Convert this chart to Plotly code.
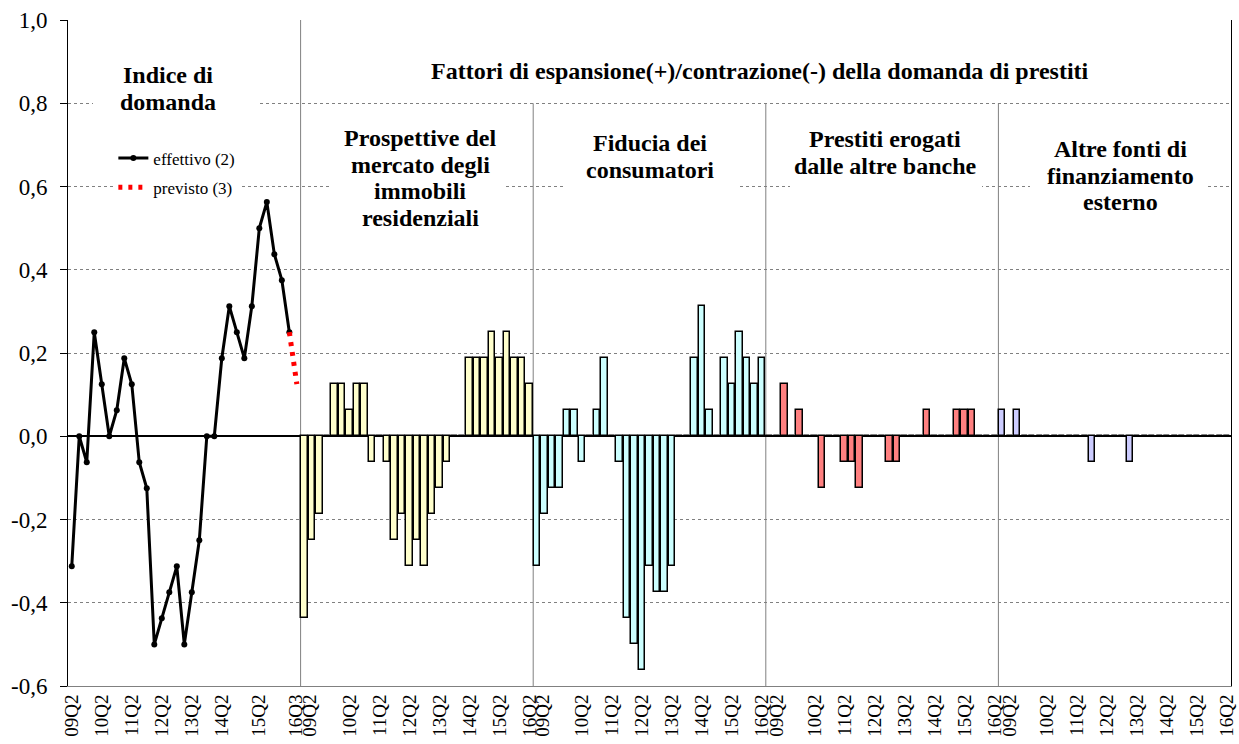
import plotly.graph_objects as go

# Indice di domanda (line), one value per quarter
effettivo = [-0.3125, 0.0, -0.0625, 0.25, 0.125, 0.0, 0.0625, 0.1875, 0.125, -0.0625,
             -0.125, -0.5, -0.4375, -0.375, -0.3125, -0.5, -0.375, -0.25, 0.0, 0.0,
             0.1875, 0.3125, 0.25, 0.1875, 0.3125, 0.5, 0.5625, 0.4375, 0.375, 0.25]
previsto = [0.25, 0.125]

# factor bars, 31 quarters each
prospettive = [-0.4375, -0.25, -0.1875, 0.0, 0.125, 0.125, 0.0625, 0.125, 0.125, -0.0625,
               0.0, -0.0625, -0.25, -0.1875, -0.3125, -0.25, -0.3125, -0.1875, -0.125, -0.0625,
               0.0, 0.0, 0.1875, 0.1875, 0.1875, 0.25, 0.1875, 0.25, 0.1875, 0.1875, 0.125]
fiducia = [-0.3125, -0.1875, -0.125, -0.125, 0.0625, 0.0625, -0.0625, 0.0, 0.0625, 0.1875,
           0.0, -0.0625, -0.4375, -0.5, -0.5625, -0.3125, -0.375, -0.375, -0.3125, 0.0,
           0.0, 0.1875, 0.3125, 0.0625, 0.0, 0.1875, 0.125, 0.25, 0.1875, 0.125, 0.1875]
altre_banche = [0.0, 0.0, 0.125, 0.0, 0.0625, 0.0, 0.0, -0.125, 0.0, 0.0,
                -0.0625, -0.0625, -0.125, 0.0, 0.0, 0.0, -0.0625, -0.0625, 0.0, 0.0,
                0.0, 0.0625, 0.0, 0.0, 0.0, 0.0625, 0.0625, 0.0625, 0.0, 0.0, 0.0]
altre_fonti = [0.0625, 0.0, 0.0625, 0.0, 0.0, 0.0, 0.0, 0.0, 0.0, 0.0,
               0.0, 0.0, -0.0625, 0.0, 0.0, 0.0, 0.0, -0.0625, 0.0, 0.0,
               0.0, 0.0, 0.0, 0.0, 0.0, 0.0, 0.0, 0.0, 0.0, 0.0, 0.0]

line_labels = ["09Q2", "10Q2", "11Q2", "12Q2", "13Q2", "14Q2", "15Q2", "16Q3"]
bar_labels = ["09Q2", "10Q2", "11Q2", "12Q2", "13Q2", "14Q2", "15Q2", "16Q2"]

FONT = "Liberation Serif"
SEC = 31  # slots per section

# plot area geometry (pixels) used to place the text boxes
W, H = 1239, 744
ML, MR, MT, MB = 68, 8, 20, 58
XR = (-0.5, 154.5)
YR = (-0.6, 1.0)


def px2x(px):
    return XR[0] + (px - ML) / (W - ML - MR) * (XR[1] - XR[0])


def py2y(py):
    return YR[1] - (py - MT) / (H - MT - MB) * (YR[1] - YR[0])


fig = go.Figure()

bar_sets = [
    (prospettive, "#FFFFCC"),
    (fiducia, "#CCFFFF"),
    (altre_banche, "#FF8080"),
    (altre_fonti, "#CCCCFF"),
]
for k, (vals, col) in enumerate(bar_sets):
    start = SEC * (k + 1)
    fig.add_trace(go.Bar(
        x=[start + i for i in range(len(vals))], y=vals,
        width=0.84, marker=dict(color=col, line=dict(color="black", width=1.5)),
        showlegend=False, hoverinfo="y",
    ))

fig.add_trace(go.Scatter(
    x=list(range(len(effettivo))), y=effettivo, mode="lines+markers",
    line=dict(color="black", width=3), marker=dict(color="black", size=6),
    name="effettivo (2)", legendgroup="a",
))
n0 = len(effettivo) - 1
fig.add_trace(go.Scatter(
    x=[n0 + i for i in range(len(previsto))], y=previsto, mode="lines",
    line=dict(color="red", width=5, dash="4px,6px"),
    name="previsto (3)", legendgroup="b",
))

# tick positions (index units)
tickvals, ticktext = [], []
line_pos = [0, 4, 8, 12, 16, 20, 25, 29.8]
tickvals += line_pos
ticktext += line_labels
first_off = [0.7, 0.8, 1.0, 1.0]
for k in range(4):
    start = SEC * (k + 1)
    pos = [start + first_off[k]] + [start + 6 + 4 * j for j in range(7)]
    tickvals += pos
    ticktext += bar_labels

yvals = [-0.6, -0.4, -0.2, 0.0, 0.2, 0.4, 0.6, 0.8, 1.0]
ytext = [f"{v:.1f}".replace(".", ",") for v in yvals]

# section separators
shapes = []
for k in range(4):
    xb = SEC * (k + 1) - 0.5
    shapes.append(dict(type="line", xref="x", yref="y", x0=xb, x1=xb,
                       y0=-0.6, y1=1.0 if k == 0 else 0.8,
                       line=dict(color="#808080", width=1), layer="below"))

# section titles: lines, centre x, first line y, white box (pixels)
titles = [
    (["Indice di", "domanda"], 168, 75, (93, 258, 58, 116)),
    (["Fattori di espansione(+)/contrazione(-) della domanda di prestiti"], 760, 71, None),
    (["Prospettive del", "mercato degli", "immobili", "residenziali"], 420, 138, (330, 505, 122, 234)),
    (["Fiducia dei", "consumatori"], 650, 143, (565, 740, 126, 196)),
    (["Prestiti erogati", "dalle altre banche"], 885, 139, (790, 982, 122, 194)),
    (["Altre fonti di", "finanziamento", "esterno"], 1120, 149, (1030, 1206, 130, 220)),
]
LINE_H = 26.7

annotations = []
for lines, cx, cy, box in titles:
    if box:
        shapes.append(dict(type="rect", xref="x", yref="y",
                           x0=px2x(box[0]), x1=px2x(box[1]),
                           y0=py2y(box[3]), y1=py2y(box[2]),
                           fillcolor="white", line=dict(width=0), layer="above"))
    for i, t in enumerate(lines):
        annotations.append(dict(
            text="<b>" + t + "</b>", x=px2x(cx), y=py2y(cy + i * LINE_H),
            xref="x", yref="y", showarrow=False, xanchor="center", yanchor="middle",
            font=dict(family=FONT, size=24, color="black"),
        ))

fig.update_layout(
    width=W, height=H,
    margin=dict(l=ML, r=MR, t=MT, b=MB),
    paper_bgcolor="white", plot_bgcolor="white",
    font=dict(family=FONT, color="black"),
    bargap=0, barmode="overlay",
    shapes=shapes, annotations=annotations,
    legend=dict(x=0.039, y=0.819, xanchor="left", yanchor="top",
                bgcolor="white", font=dict(family=FONT, size=17, color="black"),
                tracegroupgap=4),
)
fig.update_xaxes(
    range=list(XR), tickmode="array", tickvals=tickvals, ticktext=ticktext,
    tickangle=-90, tickfont=dict(family=FONT, size=19, color="black"),
    showgrid=False, zeroline=False, showline=True, linecolor="#808080", linewidth=1,
    ticks="", automargin=False,
)
fig.update_yaxes(
    range=list(YR), tickmode="array", tickvals=yvals, ticktext=ytext,
    tickfont=dict(family=FONT, size=23, color="black"),
    showgrid=True, gridcolor="#808080", griddash="dot", gridwidth=1,
    zeroline=True, zerolinecolor="black", zerolinewidth=2,
    showline=True, linecolor="black", linewidth=1, mirror=True,
    ticks="outside", ticklen=7, tickcolor="black", automargin=False,
    ticklabelstandoff=8,
)

fig.write_html("out.html", config={"displayModeBar": False},
               post_script="document.body.style.margin='0';")
